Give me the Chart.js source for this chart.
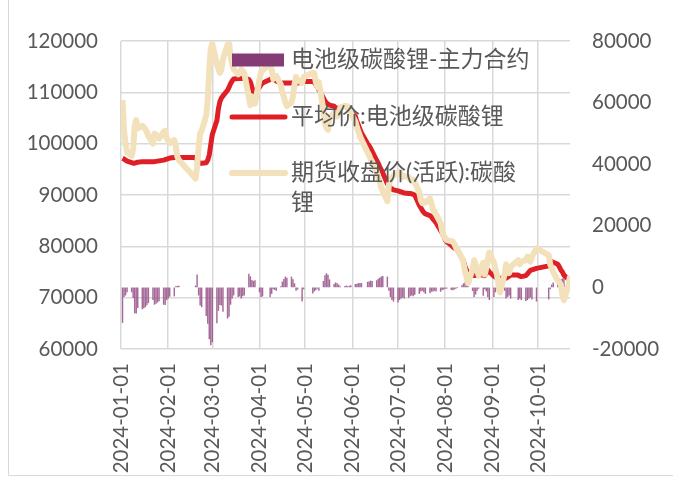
<!DOCTYPE html>
<html>
<head>
<meta charset="utf-8">
<script src="https://cdn.jsdelivr.net/npm/chart.js@4"></script>
<style>
  html, body { margin: 0; padding: 0; background: #ffffff; }
  #wrap { position: relative; width: 673px; height: 477px; }
</style>
</head>
<body>
<div id="wrap"><canvas id="c" width="673" height="477"></canvas></div>
<script>
// Trading days of 2024, listed per month (Jan .. Oct)
const daysByMonth = [
  [2,3,4,5,8,9,10,11,12,15,16,17,18,19,22,23,24,25,26,29,30,31],
  [1,2,5,6,7,8,19,20,21,22,23,26,27,28,29],
  [1,4,5,6,7,8,11,12,13,14,15,18,19,20,21,22,25,26,27,28,29],
  [1,2,3,8,9,10,11,12,15,16,17,18,19,22,23,24,25,26,29,30],
  [6,7,8,9,10,13,14,15,16,17,20,21,22,23,24,27,28,29,30,31],
  [3,4,5,6,7,11,12,13,14,17,18,19,20,21,24,25,26,27,28],
  [1,2,3,4,5,8,9,10,11,12,15,16,17,18,19,22,23,24,25,26,29,30,31],
  [1,2,5,6,7,8,9,12,13,14,15,16,19,20,21,22,23,26,27,28,29,30],
  [2,3,4,5,6,9,10,11,12,13,18,19,20,23,24,25,26,27,30],
  [8,9,10,11,14,15,16,17,18,21,22]
];

// 平均价:电池级碳酸锂 (yuan/t), one value per trading day
const spotPrice = [
  97150,97000,96800,96600,96300,96200,96200,96300,96400,96500,96500,96500,96500,96500,96500,96500,96550,96600,96650,96800,96900,97000,
  97100,97200,97300,97300,97300,97300,97300,96800,96400,96200,96200,96300,96800,97800,99800,
  101800,104500,106800,108200,108900,109300,110400,111000,111700,112200,112600,112700,112700,112700,112700,112700,112500,112000,111000,110100,110000,
  111000,111500,111800,112500,112700,112600,112400,112200,111900,111800,111800,111800,111800,111800,111800,111800,111800,111800,112000,112100,
  112100,112000,111500,111000,110500,108900,108300,107900,107700,107500,107300,107000,106900,106900,107000,107300,107200,107000,106700,106200,
  105300,104300,103600,102800,102100,100000,99600,99100,98500,96700,96200,95500,94900,94300,92200,91700,91400,91200,91000,
  90800,90700,90600,90500,90400,90300,90300,90200,90100,90000,88000,87500,87000,86600,86300,86000,85700,85300,85000,84600,83100,82600,82000,
  81300,80900,80200,79900,79700,79500,79300,77700,77100,76100,75400,74900,74400,74300,74300,74400,74400,74400,74300,74800,75400,75000,
  74200,74000,73900,73800,73800,73800,73800,74000,74200,74400,74400,74200,74100,74300,74600,75000,75300,75400,75700,
  76200,76800,77000,76900,76500,76000,75400,75000,74400,73600,null
];

// 期货收盘价(活跃):碳酸锂 (yuan/t)
const futuresClose = [
  108500,102500,100000,98300,97600,99000,103500,104600,103000,103500,103200,102800,102200,101500,100000,102000,101700,101400,101000,102300,102500,101000,
  100600,100100,100700,99500,97500,96800,93200,95500,99400,102000,102500,105500,108500,114500,118500,
  119500,115500,114500,113800,114500,116500,119300,119600,117000,115500,114500,113500,114000,114500,114200,113700,109000,107500,109200,108800,107800,
  112500,114000,114300,115500,114500,112600,113000,113200,111500,110000,109200,108000,107300,108000,109300,111500,113000,112500,111800,113000,
  113800,113700,112000,111000,112000,106500,104000,103000,102700,105000,106000,105300,105300,106000,107000,107300,107200,107300,106800,106000,
  104300,103200,102300,101500,100800,98300,97800,97000,96500,94500,93500,92500,91500,90700,88800,92000,93000,93500,93800,
  94300,94500,94000,93500,93700,93500,93000,92800,93000,92500,90500,89000,88400,88800,88500,89300,88300,87200,86800,86200,84500,83000,82000,
  81600,81200,81000,80900,80500,79800,79300,77800,76800,75200,74000,72800,75500,77300,76500,75300,74300,76800,74500,75800,77500,78800,
  76800,75500,74500,72500,71000,74500,76500,75500,74800,76000,77300,76500,77000,77300,78000,77300,77000,78000,79600,
  78300,76500,75800,75000,73300,73000,72500,70500,69500,72500,74200
];

// 电池级碳酸锂-主力合约 basis (yuan/t), right axis
const basis = [
  -11400,-3000,-2500,-1500,-1500,-3300,-8300,-8400,-6600,-7000,-6700,-6300,-5700,-5000,-4000,-5500,-5200,-4800,-4400,-5500,-5600,-4000,
  -3500,-2900,-2800,300,400,400,500,4100,-2500,-5800,-6300,-9200,-11700,-16700,-18700,
  -17700,-11500,-7500,-5600,-5800,-7800,-10000,-9400,-5500,-3500,-2500,-3000,-2800,-3500,-2800,-2500,4300,3500,2300,2000,2200,
  -1500,-3000,-2800,-3000,-2000,-500,-700,-1000,300,1800,2600,3400,3000,3400,2500,1200,-1000,-600,-4500,-500,
  -1900,-1200,-800,-300,-1000,2000,3800,4500,4000,2500,1000,1500,1200,800,300,300,500,300,400,600,
  1000,1100,1300,1300,1300,1700,1800,2100,2000,2200,2700,3000,3400,3600,3400,-1000,-3000,-4000,-4500,
  -4800,-4000,-3500,-3200,-3500,-3300,-2800,-2500,-2800,-2300,-2000,-1200,-1000,-1500,-2000,-1800,-1300,-1200,-1000,-1200,-1300,-800,-600,
  -300,-300,-700,-800,-600,-300,0,600,1200,1600,1900,2100,-1100,-3000,-2200,-1000,-300,-2600,-500,-1200,-3000,-4000,
  -3000,-1500,-500,1200,2500,-1000,-3500,-3000,-2500,-3500,-4000,-3500,-4000,-4300,-4000,-3500,-3200,-3800,-4500,
  -3800,-500,800,1500,2200,2500,2500,2800,3000,1500,800
];

const tickLabels = ['2024-01-01','2024-02-01','2024-03-01','2024-04-01','2024-05-01',
                    '2024-06-01','2024-07-01','2024-08-01','2024-09-01','2024-10-01'];

const seriesNames = ['电池级碳酸锂-主力合约', '平均价:电池级碳酸锂', '期货收盘价(活跃):碳酸锂'];

// ---- helpers: calendar day offset from 2024-01-01 ----
const DAY = 86400000;
const base = Date.UTC(2024, 0, 1);
const dayOf = (m, d) => (Date.UTC(2024, m - 1, d) - base) / DAY;
const dayOfLabel = s => { const p = s.split('-').map(Number); return dayOf(p[1], p[2]); };

const xDays = [];
daysByMonth.forEach((days, mi) => days.forEach(d => xDays.push(dayOf(mi + 1, d))));
const toPoints = arr => arr.map((v, i) => ({ x: xDays[i], y: v })).filter(p => p.y !== null);
const tickDays = tickLabels.map(dayOfLabel);
const lastDay = xDays[xDays.length - 1];

const TEXT = '#595959';
const GRID = '#D9D9D9';
const FONT = "Lato, 'Noto Sans CJK SC', sans-serif";
const C_BAR = '#853B76', C_BAR_THIN = 'rgba(150,80,135,0.85)', C_SPOT = '#DF1F26', C_FUT = '#F3E1BC';

// light outer frame of the chart object
const framePlugin = {
  id: 'frame',
  beforeDraw(chart) {
    const { ctx, width, height } = chart;
    ctx.save();
    ctx.fillStyle = '#ffffff';
    ctx.fillRect(0, 0, width, height);
    ctx.strokeStyle = GRID;
    ctx.lineWidth = 1;
    ctx.beginPath();
    ctx.moveTo(8.5, 0);
    ctx.lineTo(8.5, height - 1.5);
    ctx.lineTo(width, height - 1.5);
    ctx.stroke();
    ctx.restore();
  }
};

// legend placed inside the plot area, three stacked entries
const insetLegend = {
  id: 'insetLegend',
  afterDatasetsDraw(chart) {
    const ctx = chart.ctx;
    const x0 = 231, x1 = 284, tx = 291, maxW = 244, lineH = 30;
    const rows = [60, 117, 173];
    const ds = chart.data.datasets;
    const order = [2, 1, 0]; // bars, spot, futures
    ctx.save();
    ctx.font = '23px ' + FONT;
    ctx.textBaseline = 'middle';
    order.forEach((di, k) => {
      const d = ds[di];
      const y = rows[k];
      if (d.type === 'bar') {
        ctx.fillStyle = C_BAR;
        ctx.fillRect(x0 + 1, y - 6.5, x1 - x0 - 1, 13);
      } else {
        ctx.strokeStyle = d.borderColor;
        ctx.lineWidth = d.borderWidth;
        ctx.lineCap = 'round';
        ctx.beginPath();
        ctx.moveTo(x0 + 1, y);
        ctx.lineTo(x1 + 1, y);
        ctx.stroke();
      }
      // simple character wrap
      const lines = [];
      let cur = '';
      for (const ch of d.label) {
        if (ctx.measureText(cur + ch).width > maxW && cur) { lines.push(cur); cur = ch; }
        else cur += ch;
      }
      lines.push(cur);
      ctx.fillStyle = TEXT;
      lines.forEach((ln, i) => ctx.fillText(ln, tx, y + i * lineH));
    });
    ctx.restore();
  }
};

new Chart(document.getElementById('c'), {
  type: 'line',
  data: {
    datasets: [
      {
        label: seriesNames[2], data: toPoints(futuresClose), yAxisID: 'y',
        borderColor: C_FUT, borderWidth: 6, pointRadius: 0, tension: 0,
        borderJoinStyle: 'round', order: 0
      },
      {
        label: seriesNames[1], data: toPoints(spotPrice), yAxisID: 'y',
        borderColor: C_SPOT, borderWidth: 5, pointRadius: 0, tension: 0,
        borderJoinStyle: 'round', order: 1
      },
      {
        type: 'bar', label: seriesNames[0], data: toPoints(basis), yAxisID: 'y2',
        backgroundColor: C_BAR_THIN, borderWidth: 0, barThickness: 0.8, order: 2
      }
    ]
  },
  options: {
    responsive: false,
    animation: false,
    devicePixelRatio: 1,
    layout: { padding: { top: 41, left: 0, right: 0, bottom: 0 } },
    plugins: { legend: { display: false }, tooltip: { enabled: false } },
    scales: {
      x: {
        type: 'linear', min: 0, max: lastDay, offset: false,
        afterBuildTicks: s => { s.ticks = tickDays.map(v => ({ value: v })); },
        afterFit: s => { s.height = 128; },
        ticks: {
          autoSkip: false, minRotation: 90, maxRotation: 90, padding: 14,
          color: TEXT, font: { family: FONT, size: 20.5 },
          callback: (v, i) => tickLabels[i]
        },
        grid: { color: GRID, lineWidth: 1.5, drawTicks: false, offset: false },
        border: { display: false }
      },
      y: {
        position: 'left', min: 60000, max: 120000,
        afterFit: s => { s.width = 121; },
        ticks: { stepSize: 10000, padding: 23, color: TEXT, font: { family: FONT, size: 20.5 }, callback: v => String(v) },
        grid: { color: GRID, lineWidth: 1.5, drawTicks: false },
        border: { display: false }
      },
      y2: {
        position: 'right', min: -20000, max: 80000,
        afterFit: s => { s.width = 103; },
        ticks: { stepSize: 20000, padding: 22, color: TEXT, font: { family: FONT, size: 20.5 }, callback: v => String(v) },
        grid: { drawOnChartArea: false, drawTicks: false },
        border: { display: false }
      }
    }
  },
  plugins: [framePlugin, insetLegend]
});
</script>
</body>
</html>
